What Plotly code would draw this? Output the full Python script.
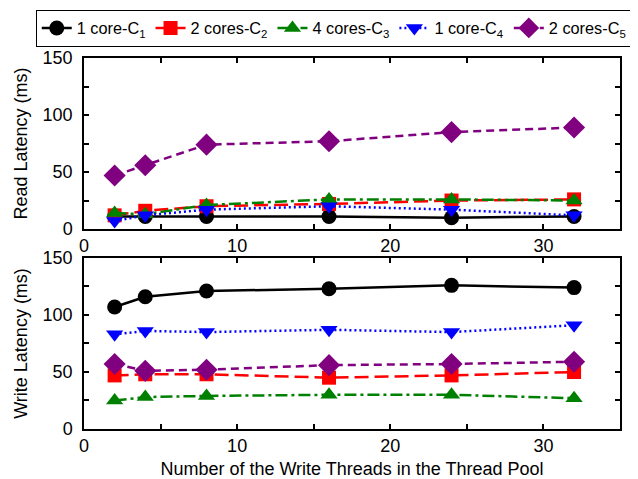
import plotly.graph_objects as go

threads = [2, 4, 8, 16, 24, 32]
names = ["1 core-C<sub>1</sub>", "2 cores-C<sub>2</sub>", "4 cores-C<sub>3</sub>",
         "1 core-C<sub>4</sub>", "2 cores-C<sub>5</sub>"]
read_c1 = [11, 11, 11, 11, 10, 11]
read_c2 = [12, 16, 20, 22, 25, 26]
read_c3 = [14, 13, 21, 26, 26, 25]
read_c4 = [7, 12, 17, 20, 17, 12]
read_c5 = [47, 56, 74, 77, 85, 89]
write_c1 = [107, 116, 121, 123, 126, 124]
write_c2 = [47, 48, 48, 45, 47, 50]
write_c3 = [25, 28, 29, 30, 30, 27]
write_c4 = [83, 86, 85, 87, 85, 91]
write_c5 = [57, 51, 52, 56, 57, 59]
y_ticks = [0, 50, 100, 150]
x_ticks = [0, 10, 20, 30]

colors = ["#000000", "#ff0000", "#008000", "#0000ff", "#800080"]
dashes = ["solid", "14px,6px", "12px,4px,3px,4px", "2px,3px", "8px,5px"]
symbols = ["circle", "square", "triangle-up", "triangle-down", "diamond"]
msizes = [15, 14, 15, 15, 17]
reads = [read_c1, read_c2, read_c3, read_c4, read_c5]
writes = [write_c1, write_c2, write_c3, write_c4, write_c5]

fig = go.Figure()
for i in range(5):
    fig.add_trace(go.Scatter(x=threads, y=reads[i], name=names[i], mode="lines+markers",
                             line=dict(color=colors[i], dash=dashes[i], width=2.5),
                             marker=dict(symbol=symbols[i], size=msizes[i], color=colors[i]),
                             xaxis="x", yaxis="y", legendgroup=str(i)))
for i in range(5):
    fig.add_trace(go.Scatter(x=threads, y=writes[i], name=names[i], mode="lines+markers",
                             line=dict(color=colors[i], dash=dashes[i], width=2.5),
                             marker=dict(symbol=symbols[i], size=msizes[i], color=colors[i]),
                             xaxis="x2", yaxis="y2", legendgroup=str(i), showlegend=False))

axis_common = dict(showline=True, linecolor="black", linewidth=1.5, mirror="ticks",
                   ticks="inside", ticklen=5, tickwidth=1.5, tickcolor="black",
                   showgrid=False, zeroline=False, automargin=False,
                   tickfont=dict(size=18, color="black"))
xa = dict(axis_common, range=[0, 35], tickvals=x_ticks,
          minor=dict(dtick=5, tick0=0, ticks="inside", ticklen=5, tickwidth=1.5, tickcolor="black"))
ya = dict(axis_common, range=[0, 150], tickvals=y_ticks, ticklabelstandoff=6,
          minor=dict(dtick=25, tick0=0, ticks="inside", ticklen=5, tickwidth=1.5, tickcolor="black"))

fig.update_layout(
    width=638, height=479,
    margin=dict(l=76, r=26, t=50, b=58, autoexpand=False),
    paper_bgcolor="white", plot_bgcolor="white",
    font=dict(family="Liberation Sans, Arial", size=18, color="black"),
    xaxis=dict(xa, domain=[0, 1], anchor="y"),
    yaxis=dict(ya, domain=[0.539, 1], anchor="x",
               title=dict(text="Read Latency (ms)", font=dict(size=18), standoff=10)),
    xaxis2=dict(xa, domain=[0, 1], anchor="y2",
                title=dict(text="Number of the Write Threads in the Thread Pool", font=dict(size=18), standoff=7)),
    yaxis2=dict(ya, domain=[0, 0.461], anchor="x2",
                title=dict(text="Write Latency (ms)", font=dict(size=18), standoff=10)),
    legend=dict(orientation="h", x=-0.09, y=1.030, xanchor="left", yanchor="bottom",
                bordercolor="black", borderwidth=1, bgcolor="white",
                font=dict(size=16.3), itemwidth=30, tracegroupgap=0,
                traceorder="normal"),
    showlegend=True,
)
fig.write_html("out.html")
